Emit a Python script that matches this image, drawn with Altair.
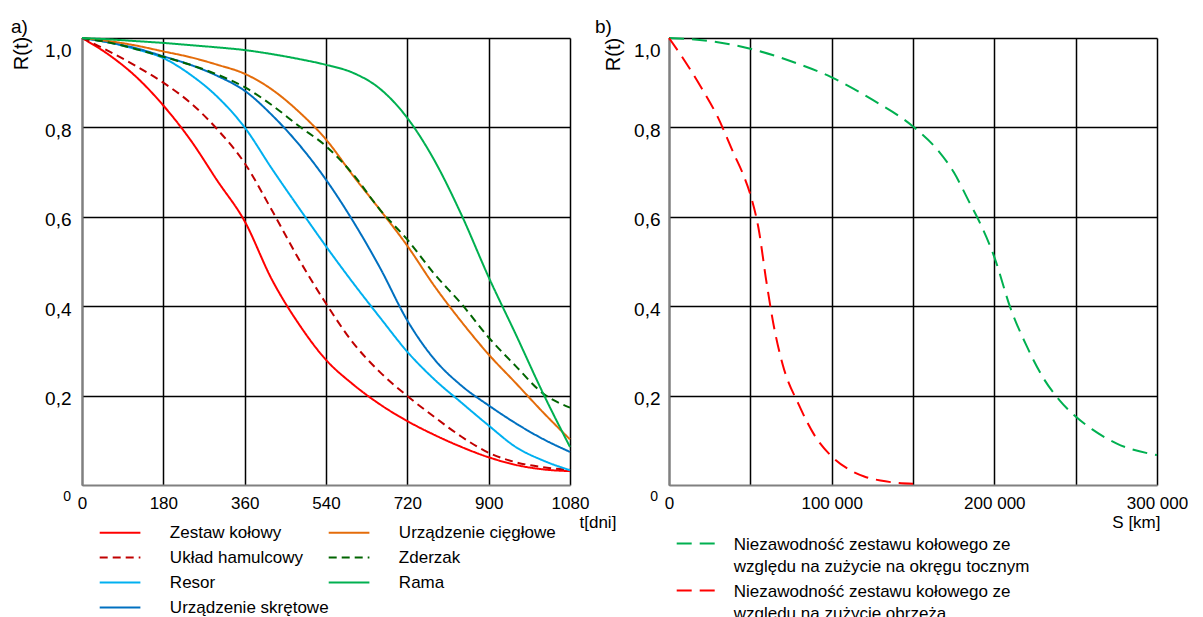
import altair as alt
import pandas as pd

# ---------------- panel a) : R(t) of wagon assemblies vs. time [days] ----------------
t_days = [0, 60, 120, 180, 240, 300, 360, 420, 480, 540, 600, 660, 720, 780, 840, 900, 960, 1020, 1080]

r_zestaw_kolowy = [1.0, 0.962, 0.913, 0.849, 0.772, 0.68, 0.59, 0.46, 0.36, 0.28, 0.225, 0.18, 0.143, 0.112, 0.085, 0.062, 0.045, 0.035, 0.031]
r_uklad_hamulcowy = [1.0, 0.97, 0.937, 0.9, 0.855, 0.795, 0.72, 0.615, 0.505, 0.406, 0.318, 0.252, 0.199, 0.152, 0.108, 0.072, 0.051, 0.04, 0.034]
r_resor = [1.0, 0.99, 0.975, 0.955, 0.918, 0.868, 0.8, 0.708, 0.62, 0.534, 0.452, 0.374, 0.298, 0.236, 0.184, 0.133, 0.085, 0.055, 0.033]
r_skretowe = [1.0, 0.99, 0.977, 0.959, 0.94, 0.915, 0.882, 0.828, 0.762, 0.683, 0.59, 0.485, 0.368, 0.281, 0.222, 0.178, 0.138, 0.103, 0.074]
r_ciegłowe = [1.0, 0.993, 0.983, 0.97, 0.957, 0.94, 0.92, 0.885, 0.835, 0.773, 0.692, 0.615, 0.535, 0.445, 0.365, 0.292, 0.228, 0.163, 0.102]
r_zderzak = [1.0, 0.99, 0.975, 0.958, 0.94, 0.918, 0.89, 0.85, 0.803, 0.758, 0.695, 0.615, 0.549, 0.472, 0.405, 0.33, 0.266, 0.205, 0.173]
r_rama = [1.0, 0.997, 0.993, 0.989, 0.984, 0.979, 0.973, 0.964, 0.953, 0.94, 0.922, 0.886, 0.821, 0.726, 0.604, 0.465, 0.337, 0.206, 0.085]

# legend entries run down the first column, then the second
names_a = ["Zestaw kołowy", "Układ hamulcowy", "Resor", "Urządzenie skrętowe",
           "Urządzenie cięgłowe", "Zderzak", "Rama"]
values_a = [r_zestaw_kolowy, r_uklad_hamulcowy, r_resor, r_skretowe, r_ciegłowe, r_zderzak, r_rama]
colors_a = ["#FF0000", "#C00000", "#00B0F0", "#0070C0", "#E46C0A", "#006400", "#00B050"]
dashes_a = [[1, 0], [8, 5], [1, 0], [1, 0], [1, 0], [8, 5], [1, 0]]
ticks_t = [0, 180, 360, 540, 720, 900, 1080]

# ---------------- panel b) : R vs. distance run [km] ----------------
s_tread_km = [0, 25000, 50000, 75000, 100000, 125000, 150000, 165000, 175000, 185000, 190000,
              200000, 210000, 220000, 230000, 240000, 250000, 260000, 275000, 300000]
r_tread = [1.0, 0.993, 0.976, 0.948, 0.912, 0.862, 0.802, 0.75, 0.70, 0.63, 0.595,
           0.51, 0.395, 0.31, 0.24, 0.19, 0.153, 0.125, 0.093, 0.067]
s_flange_km = [0, 10000, 20000, 30000, 40000, 45000, 50000, 55000, 60000, 65000, 70000,
               80000, 90000, 100000, 110000, 120000, 130000, 140000, 150000]
r_flange = [1.0, 0.947, 0.888, 0.823, 0.74, 0.70, 0.65, 0.575, 0.452, 0.345, 0.268,
            0.178, 0.108, 0.064, 0.036, 0.019, 0.01, 0.005, 0.003]

names_b = ["Niezawodność zestawu kołowego ze|względu na zużycie na okręgu tocznym",
           "Niezawodność zestawu kołowego ze|względu na zużycie obrzeża"]
colors_b = ["#00B050", "#FF0000"]
dashes_b = [[15, 8], [15, 8]]
ticks_s = [0, 50000, 100000, 150000, 200000, 250000, 300000]
ticks_r = [0.2, 0.4, 0.6, 0.8, 1.0]

FONT = "Liberation Sans"
W, H = 488, 447

rows = []
for name, vals in zip(names_a, values_a):
    rows += [{"t": t, "R": r, "element": name} for t, r in zip(t_days, vals)]
df_a = pd.DataFrame(rows)

rows = []
for name, xs, ys in [(names_b[0], s_tread_km, r_tread), (names_b[1], s_flange_km, r_flange)]:
    rows += [{"S": s, "R": r, "curve": name} for s, r in zip(xs, ys)]
df_b = pd.DataFrame(rows)

origin_a = pd.DataFrame({"t": [0], "R": [0], "label": ["0"]})
origin_b = pd.DataFrame({"S": [0], "R": [0], "label": ["0"]})

grid_style = dict(ticks=False, tickSize=0, grid=True, gridColor="black", gridWidth=1.5,
                  gridOpacity=1, domainColor="#808080", domainWidth=2,
                  labelColor="black", titleColor="black", titleFontWeight="normal")


def y_axis(title_x, title_y, pad):
    return alt.Axis(values=ticks_r,
                    labelExpr="replace(format(datum.value, '.1f'), '.', ',')",
                    labelFontSize=19, labelPadding=pad, labelOffset=3, labelFlush=True,
                    title="R(t)", titleFontSize=20, titleAngle=270, titleX=title_x,
                    titleY=title_y, titleAlign="center", titleBaseline="middle",
                    **grid_style)


x_a = alt.X("t:Q", scale=alt.Scale(domain=[0, 1080], nice=False, zero=False),
            axis=alt.Axis(values=ticks_t, labelExpr="format(datum.value, 'd')",
                          labelFontSize=17, labelPadding=10, labelFlush=False,
                          labelOverlap=False, title="t[dni]", titleFontSize=17, titleX=497,
                          titleY=37, titleAlign="left", titleBaseline="middle", **grid_style))
y_a = alt.Y("R:Q", scale=alt.Scale(domain=[0, 1], nice=False), axis=y_axis(-61, 15, 11))

legend_a = alt.Legend(title=None, orient="none", legendX=17.7, legendY=486, columns=2,
                      columnPadding=-30, rowPadding=7, padding=0,
                      symbolType="M-4.07,0H4.07", symbolSize=100, symbolStrokeWidth=2,
                      symbolOffset=11.85, labelOffset=41.3, labelFontSize=17, labelLimit=400,
                      labelBaseline="middle", labelColor="black")

lines_a = alt.Chart(df_a).mark_line(strokeWidth=2, interpolate="monotone").encode(
    x=x_a, y=y_a,
    color=alt.Color("element:N", scale=alt.Scale(domain=names_a, range=colors_a), legend=legend_a),
    strokeDash=alt.StrokeDash("element:N", scale=alt.Scale(domain=names_a, range=dashes_a),
                              legend=legend_a),
)
zero_a = alt.Chart(origin_a).mark_text(align="right", baseline="middle", dx=-11, dy=12,
                                       fontSize=14, color="black").encode(
    x=x_a, y=y_a, text="label:N")

panel_a = alt.layer(lines_a, zero_a).properties(
    width=W, height=H,
    title=alt.TitleParams("a)", anchor="start", frame="group", dx=-71, dy=3, offset=0,
                          fontSize=19, fontWeight="normal", color="black"))

x_b = alt.X("S:Q", scale=alt.Scale(domain=[0, 300000], nice=False, zero=False),
            axis=alt.Axis(values=ticks_s,
                          labelExpr="datum.value % 100000 === 0 ? replace(format(datum.value, ','), ',', ' ') : ''",
                          labelFontSize=17, labelPadding=10, labelFlush=False, labelOverlap=False,
                          title="S [km]", titleFontSize=17, titleX=491, titleY=37,
                          titleAlign="right", titleBaseline="middle", **grid_style))
y_b = alt.Y("R:Q", scale=alt.Scale(domain=[0, 1], nice=False), axis=y_axis(-56, 16, 9))

legend_b = alt.Legend(title=None, orient="none", legendX=7.7, legendY=490, columns=1,
                      rowPadding=-3, padding=0, symbolType="M-3.9,1.4H3.9", symbolSize=100,
                      symbolStrokeWidth=2, symbolOffset=11, labelOffset=29, labelFontSize=17,
                      labelLimit=500, labelBaseline="top", labelColor="black",
                      labelExpr="split(datum.label, '|')")

lines_b = alt.Chart(df_b).mark_line(strokeWidth=2, interpolate="monotone").encode(
    x=x_b, y=y_b,
    color=alt.Color("curve:N", scale=alt.Scale(domain=names_b, range=colors_b), legend=legend_b),
    strokeDash=alt.StrokeDash("curve:N", scale=alt.Scale(domain=names_b, range=dashes_b),
                              legend=legend_b),
)
zero_b = alt.Chart(origin_b).mark_text(align="right", baseline="middle", dx=-11, dy=12,
                                       fontSize=14, color="black").encode(
    x=x_b, y=y_b, text="label:N")

panel_b = alt.layer(lines_b, zero_b).properties(
    width=W, height=H,
    title=alt.TitleParams("b)", anchor="start", frame="group", dx=-74, dy=3, offset=0,
                          fontSize=19, fontWeight="normal", color="black"))

chart = (
    alt.hconcat(panel_a, panel_b, spacing=99, bounds="flush")
    .resolve_scale(color="independent", strokeDash="independent")
    .properties(padding={"left": 11, "top": 18, "right": 0, "bottom": 0})
    .configure(font=FONT, style={"guide-label": {"lineHeight": 22}})
    .configure_view(stroke=None)
)

chart.save("out.html", embed_options={"renderer": "svg", "actions": False})
